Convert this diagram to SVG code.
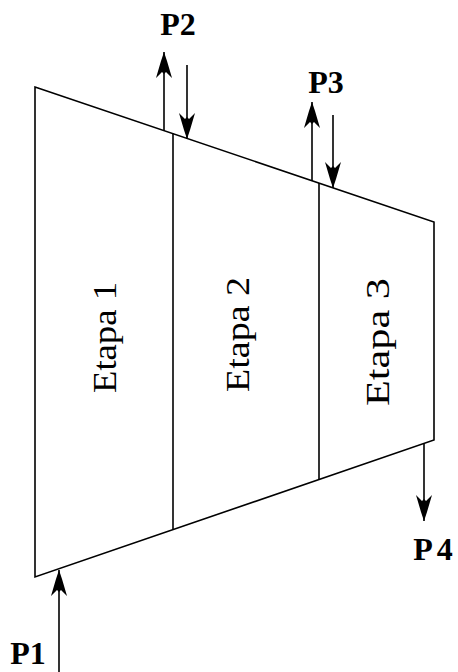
<svg xmlns="http://www.w3.org/2000/svg" width="458" height="672" viewBox="0 0 458 672">
<defs>
<marker id="ah" markerUnits="userSpaceOnUse" orient="auto" refX="0" refY="0" markerWidth="30" markerHeight="20" overflow="visible">
<path d="M0,0 L-9,-3 L-26,-8 L-20,-2 L-22,0 L-20,2 L-26,8 L-9,3 Z" fill="#000"/>
</marker>
<style>
.edge{fill:none;stroke:#000;stroke-width:1.6}
.arr{fill:none;stroke:#000;stroke-width:1.6;marker-end:url(#ah)}
.lbl{font-family:"Liberation Serif","Times New Roman",serif;font-weight:bold;font-size:32px;fill:#000}
.stage{font-family:"Liberation Serif","Times New Roman",serif;font-size:33px;fill:#000}
</style>
</defs>
<rect width="458" height="672" fill="#fff"/>
<g id="compressor">
<polygon class="edge" points="35,87 434,222 434,440 35,577"/>
</g>
<g id="etapa1">
<line class="edge" x1="173" y1="133.6" x2="173" y2="529.7"/>
<text class="stage" transform="translate(116,393) rotate(-90)" textLength="111" lengthAdjust="spacingAndGlyphs">Etapa 1</text>
</g>
<g id="etapa2">
<line class="edge" x1="319" y1="183" x2="319" y2="479.6"/>
<text class="stage" transform="translate(249,392) rotate(-90)" textLength="115" lengthAdjust="spacingAndGlyphs">Etapa 2</text>
</g>
<g id="etapa3">
<text class="stage" transform="translate(389,406) rotate(-90)" textLength="128" lengthAdjust="spacingAndGlyphs">Etapa 3</text>
</g>
<g id="connectors">
<line class="arr" x1="59" y1="672" x2="59" y2="570"/>
<line class="arr" x1="164" y1="131" x2="164" y2="52"/>
<line class="arr" x1="187" y1="65" x2="187" y2="139"/>
<line class="arr" x1="312" y1="181" x2="312" y2="102"/>
<line class="arr" x1="333" y1="115" x2="333" y2="188"/>
<line class="arr" x1="424" y1="444" x2="424" y2="521"/>
</g>
<g id="p1"><text class="lbl" x="28" y="664" text-anchor="middle" font-size="30">P1</text></g>
<g id="p2"><text class="lbl" x="178" y="35" text-anchor="middle">P2</text></g>
<g id="p3"><text class="lbl" x="326" y="93" text-anchor="middle">P3</text></g>
<g id="p4"><text class="lbl" x="435" y="560" text-anchor="middle" letter-spacing="4">P4</text></g>
</svg>
